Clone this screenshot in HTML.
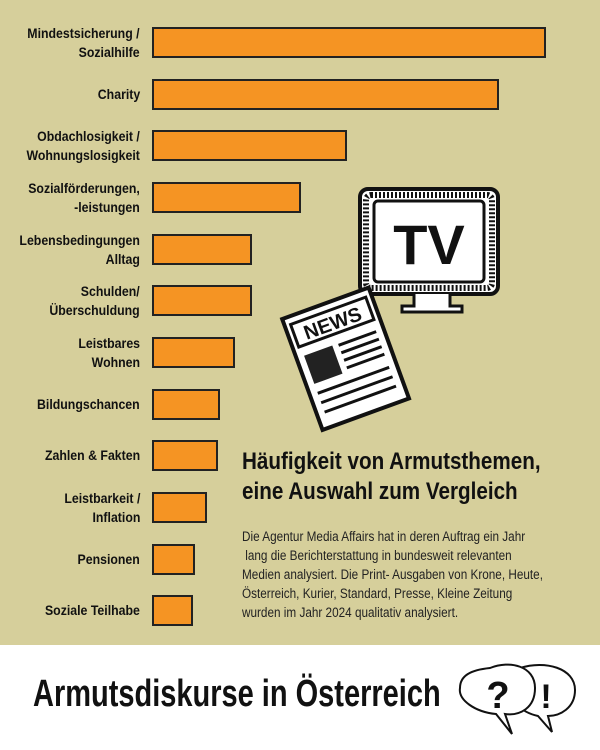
<!DOCTYPE html>
<html><head><meta charset="utf-8"><style>
body{margin:0;width:600px;height:750px;position:relative;background:#fff;overflow:hidden;font-family:"Liberation Sans",sans-serif;}
#bg{position:absolute;left:0;top:0;width:600px;height:645px;background:#d6cf9b;}
.bar{position:absolute;left:152px;height:27px;background:#f59423;border:2px solid #222;box-sizing:content-box;}
.lab{position:absolute;right:460px;text-align:right;font-weight:bold;font-size:14px;line-height:19px;color:#111;white-space:nowrap;transform:scaleX(0.88);transform-origin:right center;}
.t{position:absolute;white-space:nowrap;color:#111;transform-origin:left top;}
</style></head><body>
<div id="bg"></div>
<div class="bar" style="top:27px;width:390px"></div>
<div class="bar" style="top:79px;width:343px"></div>
<div class="bar" style="top:130px;width:191px"></div>
<div class="bar" style="top:182px;width:145px"></div>
<div class="bar" style="top:234px;width:96px"></div>
<div class="bar" style="top:285px;width:96px"></div>
<div class="bar" style="top:337px;width:79px"></div>
<div class="bar" style="top:389px;width:64px"></div>
<div class="bar" style="top:440px;width:62px"></div>
<div class="bar" style="top:492px;width:51px"></div>
<div class="bar" style="top:544px;width:39px"></div>
<div class="bar" style="top:595px;width:37px"></div>

<div class="lab" style="top:24px">Mindestsicherung /<br>Sozialhilfe</div>
<div class="lab" style="top:85px">Charity</div>
<div class="lab" style="top:127px">Obdachlosigkeit /<br>Wohnungslosigkeit</div>
<div class="lab" style="top:179px">Sozialförderungen,<br>-leistungen</div>
<div class="lab" style="top:231px">Lebensbedingungen<br>Alltag</div>
<div class="lab" style="top:282px">Schulden/<br>Überschuldung</div>
<div class="lab" style="top:334px">Leistbares<br>Wohnen</div>
<div class="lab" style="top:395px">Bildungschancen</div>
<div class="lab" style="top:446px">Zahlen &amp; Fakten</div>
<div class="lab" style="top:489px">Leistbarkeit /<br>Inflation</div>
<div class="lab" style="top:550px">Pensionen</div>
<div class="lab" style="top:601px">Soziale Teilhabe</div>

<svg style="position:absolute;left:0;top:0" width="600" height="750">
 <rect x="360" y="189" width="138" height="105" rx="8" fill="#fff" stroke="#111" stroke-width="4"/>
 <rect x="366" y="195" width="126" height="93" rx="5" fill="none" stroke="#111" stroke-width="6" stroke-dasharray="2 2"/>
 <rect x="374" y="201" width="110" height="81" rx="4" fill="#fff" stroke="#111" stroke-width="3"/>
 <text x="429" y="264" text-anchor="middle" font-family="Liberation Sans" font-weight="bold" font-size="56" fill="#111">TV</text>
 <path d="M414 294 L414 306 L402 306 L402 312 L462 312 L462 306 L450 306 L450 294" fill="#fff" stroke="#111" stroke-width="3"/>
 <g transform="rotate(-20 345 360)">
  <rect x="300" y="300" width="92" height="118" fill="#fff" stroke="#111" stroke-width="4"/>
  <rect x="306" y="308" width="80" height="24" fill="#fff" stroke="#111" stroke-width="3"/>
  <text x="346" y="328" text-anchor="middle" font-family="Liberation Sans" font-weight="bold" font-size="20" fill="#111">NEWS</text>
  <rect x="308" y="342" width="30" height="30" fill="#222"/>
  <g stroke="#111" stroke-width="3">
   <line x1="344" y1="344" x2="384" y2="344"/><line x1="344" y1="352" x2="384" y2="352"/>
   <line x1="344" y1="360" x2="384" y2="360"/><line x1="344" y1="368" x2="384" y2="368"/>
   <line x1="308" y1="382" x2="384" y2="382"/><line x1="308" y1="392" x2="384" y2="392"/>
   <line x1="308" y1="402" x2="384" y2="402"/>
  </g>
 </g>
 <path d="M520 668 C545 660 575 668 575 690 C575 708 560 716 548 716 L552 732 L538 716 C520 712 510 700 512 688" fill="#fff" stroke="#111" stroke-width="2"/>
 <text x="546" y="708" text-anchor="middle" font-family="Liberation Sans" font-weight="bold" font-size="34" fill="#111">!</text>
 <path d="M490 668 C510 660 535 666 535 688 C535 708 520 716 505 714 L512 734 L496 714 C475 712 458 700 460 688 C460 676 470 670 490 668 Z" fill="#fff" stroke="#111" stroke-width="2"/>
 <text x="498" y="708" text-anchor="middle" font-family="Liberation Sans" font-weight="bold" font-size="38" fill="#111">?</text>
</svg>

<div class="t" style="left:242px;top:447px;font-size:24px;font-weight:bold;line-height:30px;transform:scaleX(0.86)">Häufigkeit von Armutsthemen,<br>eine Auswahl zum Vergleich</div>
<div class="t" style="left:242px;top:527px;font-size:13.5px;line-height:19px;color:#222;transform:scaleX(0.87)">Die Agentur Media Affairs hat in deren Auftrag ein Jahr<br>&nbsp;lang die Berichterstattung in bundesweit relevanten<br>Medien analysiert. Die Print- Ausgaben von Krone, Heute,<br>Österreich, Kurier, Standard, Presse, Kleine Zeitung<br>wurden im Jahr 2024 qualitativ analysiert.</div>
<div class="t" style="left:33px;top:671px;font-size:38px;font-weight:bold;line-height:46px;transform:scaleX(0.763)">Armutsdiskurse in Österreich</div>
</body></html>
